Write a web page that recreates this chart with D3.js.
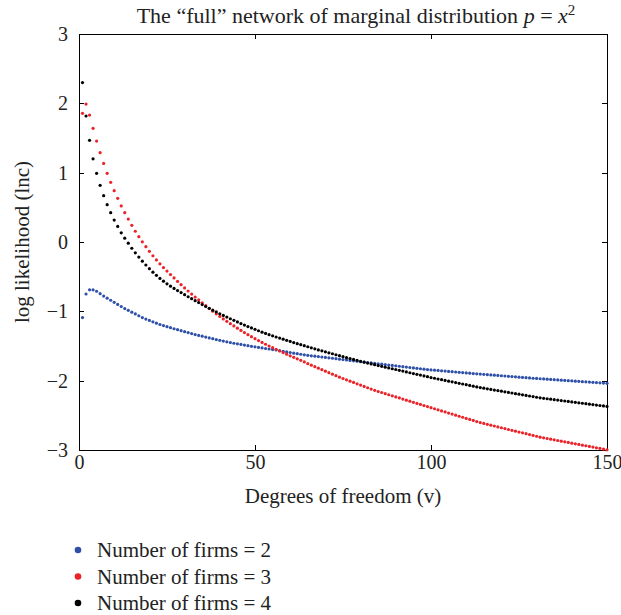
<!DOCTYPE html>
<html lang="en">
<head>
<meta charset="utf-8">
<title>full network</title>
<script src="https://cdnjs.cloudflare.com/ajax/libs/d3/7.8.5/d3.min.js"></script>
<style>
  body { margin: 0; background: #fff; }
  svg text { font-family: "Liberation Serif", "DejaVu Serif", serif; fill: #222; }
  .axis path, .axis line { stroke: #000; stroke-width: 1.2px; fill: none; shape-rendering: crispEdges; }
  .axis text { font-size: 20px; font-family: "Liberation Serif", serif; fill: #222; }
</style>
</head>
<body>
<div id="chart"></div>
<script>
// degrees of freedom v = 1..150
var dof = d3.range(1, 151);

var firms2 = [
  -1.09, -0.75, -0.69, -0.69, -0.71, -0.745, -0.78, -0.81, -0.84, -0.87,
  -0.90, -0.93, -0.96, -0.985, -1.012, -1.038, -1.064, -1.09, -1.111, -1.131,
  -1.151, -1.171, -1.19, -1.206, -1.221, -1.236, -1.251, -1.265, -1.279, -1.293,
  -1.307, -1.321, -1.335, -1.347, -1.359, -1.371, -1.383, -1.395, -1.407, -1.418,
  -1.429, -1.44, -1.45, -1.46, -1.469, -1.478, -1.487, -1.495, -1.504, -1.512,
  -1.52, -1.528, -1.536, -1.543, -1.551, -1.558, -1.567, -1.576, -1.585, -1.594,
  -1.603, -1.611, -1.619, -1.627, -1.635, -1.641, -1.647, -1.653, -1.659, -1.665,
  -1.671, -1.677, -1.683, -1.69, -1.696, -1.702, -1.708, -1.714, -1.72, -1.726,
  -1.732, -1.738, -1.744, -1.75, -1.756, -1.762, -1.768, -1.774, -1.78, -1.786,
  -1.792, -1.798, -1.804, -1.81, -1.816, -1.822, -1.828, -1.834, -1.84, -1.845,
  -1.849, -1.853, -1.858, -1.862, -1.866, -1.871, -1.875, -1.879, -1.884, -1.888,
  -1.892, -1.897, -1.901, -1.905, -1.909, -1.913, -1.917, -1.921, -1.925, -1.929,
  -1.933, -1.937, -1.941, -1.945, -1.949, -1.953, -1.957, -1.961, -1.965, -1.968,
  -1.972, -1.975, -1.979, -1.982, -1.986, -1.989, -1.993, -1.996, -2.0, -2.003,
  -2.007, -2.01, -2.014, -2.017, -2.021, -2.024, -2.028, -2.031, -2.035, -2.038
];

var firms3 = [
  1.856, 1.99, 1.83, 1.64, 1.456, 1.288, 1.134, 0.99, 0.86, 0.74,
  0.63, 0.52, 0.423, 0.33, 0.24, 0.155, 0.077, 0.002, -0.068, -0.135,
  -0.198, -0.258, -0.315, -0.369, -0.42, -0.47, -0.518, -0.568, -0.616, -0.662,
  -0.707, -0.751, -0.794, -0.836, -0.878, -0.919, -0.959, -0.998, -1.036, -1.073,
  -1.109, -1.144, -1.178, -1.211, -1.243, -1.275, -1.306, -1.336, -1.365, -1.394,
  -1.422, -1.449, -1.475, -1.5, -1.524, -1.548, -1.572, -1.595, -1.618, -1.641,
  -1.663, -1.685, -1.707, -1.729, -1.755, -1.777, -1.798, -1.82, -1.842, -1.863,
  -1.885, -1.907, -1.928, -1.95, -1.969, -1.988, -2.007, -2.026, -2.045, -2.064,
  -2.083, -2.102, -2.121, -2.14, -2.156, -2.171, -2.187, -2.203, -2.218, -2.234,
  -2.249, -2.265, -2.281, -2.296, -2.312, -2.328, -2.343, -2.359, -2.374, -2.39,
  -2.405, -2.42, -2.436, -2.451, -2.467, -2.482, -2.497, -2.513, -2.528, -2.544,
  -2.559, -2.574, -2.59, -2.605, -2.617, -2.63, -2.642, -2.654, -2.667, -2.679,
  -2.691, -2.704, -2.716, -2.728, -2.741, -2.753, -2.765, -2.778, -2.79, -2.802,
  -2.815, -2.825, -2.834, -2.844, -2.853, -2.863, -2.872, -2.882, -2.891, -2.901,
  -2.911, -2.92, -2.93, -2.939, -2.949, -2.958, -2.968, -2.978, -2.987, -2.997
];

var firms4 = [
  2.30, 1.817, 1.466, 1.20, 0.99, 0.817, 0.668, 0.538, 0.423, 0.316,
  0.225, 0.133, 0.055, -0.017, -0.09, -0.156, -0.218, -0.277, -0.332, -0.385,
  -0.435, -0.481, -0.525, -0.565, -0.603, -0.637, -0.669, -0.70, -0.73, -0.76,
  -0.79, -0.818, -0.846, -0.874, -0.902, -0.93, -0.957, -0.983, -1.009, -1.035,
  -1.059, -1.083, -1.107, -1.13, -1.153, -1.176, -1.198, -1.22, -1.24, -1.26,
  -1.28, -1.30, -1.318, -1.336, -1.353, -1.37, -1.386, -1.402, -1.418, -1.434,
  -1.45, -1.466, -1.481, -1.496, -1.511, -1.526, -1.541, -1.556, -1.57, -1.584,
  -1.598, -1.612, -1.626, -1.64, -1.654, -1.668, -1.681, -1.694, -1.707, -1.72,
  -1.733, -1.746, -1.758, -1.77, -1.782, -1.793, -1.805, -1.816, -1.828, -1.839,
  -1.851, -1.862, -1.874, -1.886, -1.897, -1.909, -1.92, -1.932, -1.943, -1.955,
  -1.965, -1.976, -1.986, -1.996, -2.007, -2.017, -2.027, -2.038, -2.048, -2.058,
  -2.069, -2.079, -2.09, -2.10, -2.109, -2.117, -2.126, -2.135, -2.143, -2.152,
  -2.161, -2.169, -2.178, -2.187, -2.195, -2.204, -2.213, -2.221, -2.23, -2.239,
  -2.248, -2.254, -2.261, -2.267, -2.274, -2.28, -2.287, -2.293, -2.3, -2.306,
  -2.313, -2.319, -2.326, -2.332, -2.339, -2.345, -2.352, -2.358, -2.365, -2.372
];

var seriesNames = ["Number of firms = 2", "Number of firms = 3", "Number of firms = 4"];
var seriesColors = ["#2f50a8", "#ec2229", "#000000"];
var xTicks = [0, 50, 100, 150];
var yTicks = [-3, -2, -1, 0, 1, 2, 3];

var W = 621, H = 615;
var mLeft = 79, mRight = 607, mTop = 34, mBottom = 450;

var svg = d3.select("#chart").append("svg")
  .attr("width", W).attr("height", H);

var x = d3.scaleLinear().domain([0, 150]).range([mLeft, mRight]);
var y = d3.scaleLinear().domain([-3, 3]).range([mBottom, mTop]);
var fmt = d3.format("d");

// frame + inward ticks
svg.append("g").attr("class", "axis")
  .attr("transform", "translate(0," + mBottom + ")")
  .call(d3.axisBottom(x).tickValues(xTicks).tickFormat(fmt).tickSizeInner(-5).tickSizeOuter(0).tickPadding(5));
svg.append("g").attr("class", "axis")
  .attr("transform", "translate(0," + mTop + ")")
  .call(d3.axisTop(x).tickValues(xTicks).tickSizeInner(-5).tickSizeOuter(0).tickFormat(""));
svg.append("g").attr("class", "axis")
  .attr("transform", "translate(" + mLeft + ",0)")
  .call(d3.axisLeft(y).tickValues(yTicks).tickFormat(fmt).tickSizeInner(-5).tickSizeOuter(0).tickPadding(11));
svg.append("g").attr("class", "axis")
  .attr("transform", "translate(" + mRight + ",0)")
  .call(d3.axisRight(y).tickValues(yTicks).tickSizeInner(-5).tickSizeOuter(0).tickFormat(""));

// dots
var all = [firms2, firms3, firms4];
all.forEach(function(vals, k) {
  svg.append("g").selectAll("circle")
    .data(vals).enter()
    .append("circle")
    .attr("cx", function(d, i) { return x(dof[i]); })
    .attr("cy", function(d) { return y(d); })
    .attr("r", 1.6)
    .attr("fill", seriesColors[k]);
});

// title
var title = svg.append("text")
  .attr("x", 356).attr("y", 23)
  .attr("text-anchor", "middle")
  .attr("font-size", 22);
title.append("tspan").text("The \u201cfull\u201d network of marginal distribution ");
title.append("tspan").attr("font-style", "italic").text("p");
title.append("tspan").text(" = ");
title.append("tspan").attr("font-style", "italic").text("x");
title.append("tspan").attr("font-size", 15).attr("dy", -8).text("2");

// axis labels
svg.append("text")
  .attr("x", (mLeft + mRight) / 2).attr("y", 503)
  .attr("text-anchor", "middle")
  .attr("font-size", 21)
  .text("Degrees of freedom (v)");
svg.append("text")
  .attr("transform", "translate(29," + ((mTop + mBottom) / 2) + ") rotate(-90)")
  .attr("text-anchor", "middle")
  .attr("font-size", 21)
  .text("log likelihood (lnc)");

// legend
var leg = svg.append("g").selectAll("g")
  .data(seriesNames).enter()
  .append("g")
  .attr("transform", function(d, i) { return "translate(78," + (550 + i * 26.5) + ")"; });
leg.append("circle").attr("r", 3.3).attr("fill", function(d, i) { return seriesColors[i]; });
leg.append("text").attr("x", 19).attr("y", 7).attr("font-size", 21).text(function(d) { return d; });
</script>
</body>
</html>
